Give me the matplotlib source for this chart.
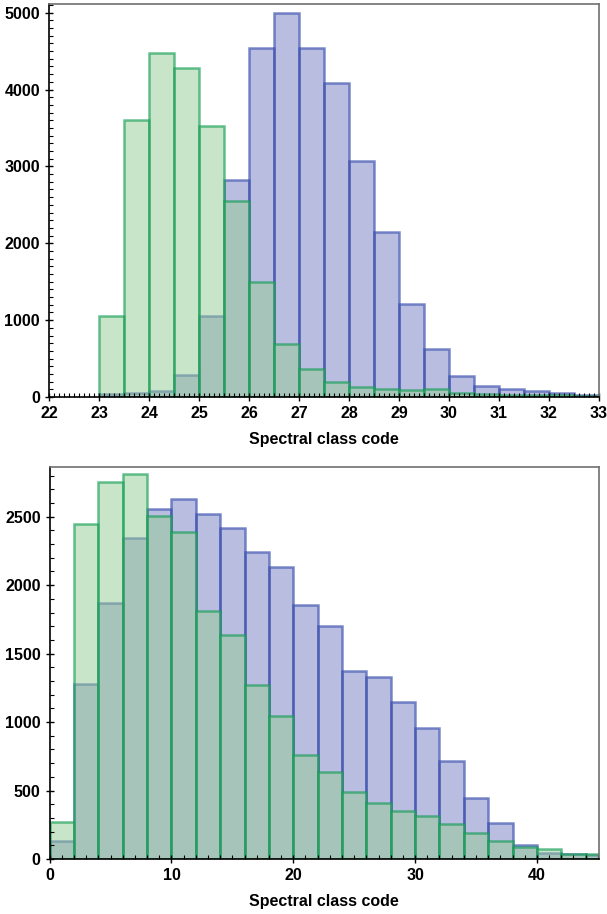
import numpy as np
import matplotlib.pyplot as plt
from matplotlib.ticker import MultipleLocator

plt.rcParams['font.family'] = ['Liberation Sans', 'DejaVu Sans']
plt.rcParams['font.weight'] = 'bold'

# Panel superior: classes 23..33, largura 0.5
bins_top = np.arange(23, 33.01, 0.5)
blue_top = [35, 50, 80, 280, 1050, 2820, 4545, 5000, 4545, 4090,
            3075, 2150, 1205, 625, 270, 145, 110, 75, 50, 30]
green_top = [1060, 3605, 4470, 4280, 3520, 2555, 1490, 685, 370, 190,
             130, 105, 90, 105, 55, 35, 30, 25, 20, 15]

# Panel inferior: classes 0..46, largura 2
bins_bot = np.arange(0, 46.01, 2)
blue_bot = [131, 1278, 1867, 2342, 2556, 2627, 2522, 2417, 2242, 2130,
            1855, 1702, 1373, 1329, 1144, 959, 713, 445, 265, 102, 46, 34, 27]
green_bot = [268, 2444, 2753, 2814, 2505, 2388, 1809, 1633, 1268, 1044,
             757, 633, 489, 409, 348, 314, 253, 190, 131, 90, 71, 34, 34]

blue_face = (0.46, 0.49, 0.76, 0.5)
blue_edge = (0.22, 0.30, 0.68, 0.65)
green_face = (0.58, 0.80, 0.58, 0.5)
green_edge = (0.08, 0.62, 0.33, 0.65)


def desenha(ax, bins, azul, verde, xlim, ylim, xmaj, xmin, ymaj, ymin):
    esq = bins[:-1]
    larg = np.diff(bins)
    ax.bar(esq, azul, width=larg, align='edge', facecolor=blue_face,
           edgecolor=blue_edge, linewidth=1.8)
    ax.bar(esq, verde, width=larg, align='edge', facecolor=green_face,
           edgecolor=green_edge, linewidth=1.8)
    ax.set_xlim(*xlim)
    ax.set_ylim(*ylim)
    ax.xaxis.set_major_locator(MultipleLocator(xmaj))
    ax.xaxis.set_minor_locator(MultipleLocator(xmin))
    ax.yaxis.set_major_locator(MultipleLocator(ymaj))
    ax.yaxis.set_minor_locator(MultipleLocator(ymin))
    ax.tick_params(which='major', direction='inout', length=6, width=1,
                   labelsize=11.5, top=False, right=False)
    ax.tick_params(which='minor', direction='in', length=3, width=0.8,
                   top=False, right=False)
    for lbl in ax.get_xticklabels() + ax.get_yticklabels():
        lbl.set_fontweight('bold')
    for lado in ['top', 'right']:
        ax.spines[lado].set_color('#707070')
        ax.spines[lado].set_linewidth(1.2)
    for lado in ['left', 'bottom']:
        ax.spines[lado].set_color('black')
        ax.spines[lado].set_linewidth(1.2)
    ax.set_xlabel('Spectral class code', fontsize=11.5, fontweight='bold',
                  labelpad=8)


fig = plt.figure(figsize=(6.07, 9.14), dpi=100)
ax1 = fig.add_axes([49 / 607, 1 - 397 / 914, 550 / 607, 393 / 914])
ax2 = fig.add_axes([49.7 / 607, 1 - 859 / 914, 549.3 / 607, 392.3 / 914])

desenha(ax1, bins_top, blue_top, green_top, (22, 33), (0, 5113), 1, 0.1, 1000, 100)
desenha(ax2, bins_bot, blue_bot, green_bot, (0, 45.1), (0, 2865), 10, 1, 500, 100)

fig.savefig('out.png', dpi=100)
